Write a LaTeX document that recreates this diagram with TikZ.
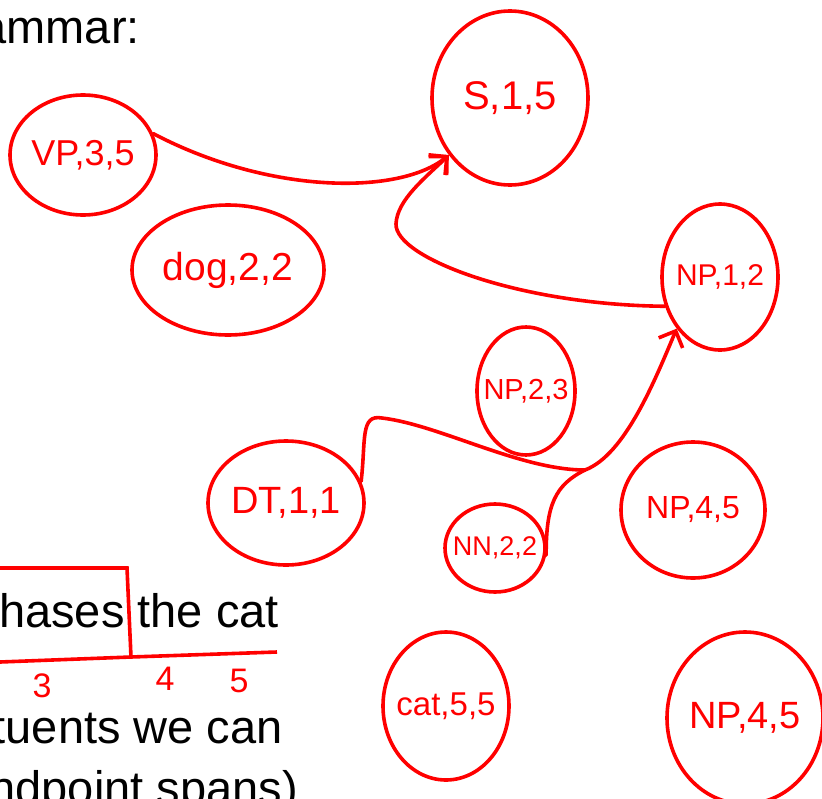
\documentclass[tikz,border=0pt]{standalone}
\usepackage{fontspec}
\setmainfont{Liberation Sans}
\usetikzlibrary{shapes.geometric, arrows.meta}
\definecolor{inkred}{RGB}{255,0,0}

\begin{document}
\begin{tikzpicture}[x=1pt, y=-1pt,
    blob/.style={ellipse, draw=inkred, line width=3.6pt, text=inkred, inner sep=-8pt},
    hw/.style={font=\fontsize{#1}{#1}\selectfont},
    slide/.style={font=\fontsize{47}{47}\selectfont, inner sep=0pt, anchor=base east},
    link/.style={draw=inkred, line width=3.6pt, line cap=round, -{Straight Barb[length=13pt,width=26pt]}},
    pen/.style={draw=inkred, line width=3.6pt, line cap=round},
    num/.style={text=inkred, font=\fontsize{34}{34}\selectfont}
]
    \useasboundingbox (0,0) rectangle (822,798);
    \clip (0,0) rectangle (822,798);

    % slide text behind the sketch
    \node[slide] (title) at (140,43) {ammar:};
    \node[slide] (sent) at (279,627) {hases the cat};
    \node[slide] (line1) at (283,743) {tuents we can};
    \node[slide] (line2) at (298,804) {ndpoint spans)};

    % box round the word and the span line
    \coordinate (boxtop) at (0,568);
    \coordinate (boxcorner) at (127,568);
    \coordinate (boxfoot) at (131,657);
    \coordinate (spanleft) at (0,662);
    \coordinate (spanright) at (277,652);
    \draw[pen, line cap=butt] (boxtop) -- (boxcorner) -- (boxfoot);
    \draw[pen, line cap=butt] (spanleft) -- (boxfoot) -- (spanright);
    \node[num] (n3) at (42,686) {3};
    \node[num] (n4) at (165,679) {4};
    \node[num] (n5) at (239,681) {5};

    % chart items
    \node[blob, minimum width=146pt, minimum height=120pt, hw=36] (vp35) at (83,155) {VP,3,5};
    \node[blob, minimum width=192pt, minimum height=130pt, hw=39] (dog22) at (228,270) {dog,2,2};
    \node[blob, minimum width=156pt, minimum height=174pt, hw=40] (s15) at (510,98) {S,1,5};
    \node[blob, minimum width=116pt, minimum height=146pt, hw=30] (np12) at (720,277) {NP,1,2};
    \node[blob, minimum width=98pt, minimum height=128pt, hw=29] (np23) at (526,391) {NP,2,3};
    \node[blob, minimum width=156pt, minimum height=124pt, hw=38] (dt11) at (286,503) {DT,1,1};
    \node[blob, minimum width=100pt, minimum height=88pt, hw=27] (nn22) at (495,548) {NN,2,2};
    \node[blob, minimum width=144pt, minimum height=136pt, hw=32] (np45a) at (693,510) {NP,4,5};
    \node[blob, minimum width=126pt, minimum height=148pt, hw=33] (cat55) at (446,706) {cat,5,5};
    \node[blob, minimum width=156pt, minimum height=172pt, hw=38] (np45b) at (745,718) {NP,4,5};

    % back pointers
    \coordinate (merge) at (585,470);
    \draw[link] (vp35.17) .. controls (270,195) and (400,195) .. (s15.223);
    \draw[link] (np12.208) .. controls (520,305) and (395,258) .. (396,224)
        .. controls (397,200) and (425,178) .. (s15.223);
    \draw[link] (dt11.16) .. controls (366,440) and (360,414) .. (382,418)
        .. controls (440,425) and (520,470) .. (merge)
        .. controls (625,455) and (655,380) .. (np12.230);
    \draw[pen] (nn22.-8) .. controls (546,505) and (555,485) .. (merge);
\end{tikzpicture}
\end{document}
